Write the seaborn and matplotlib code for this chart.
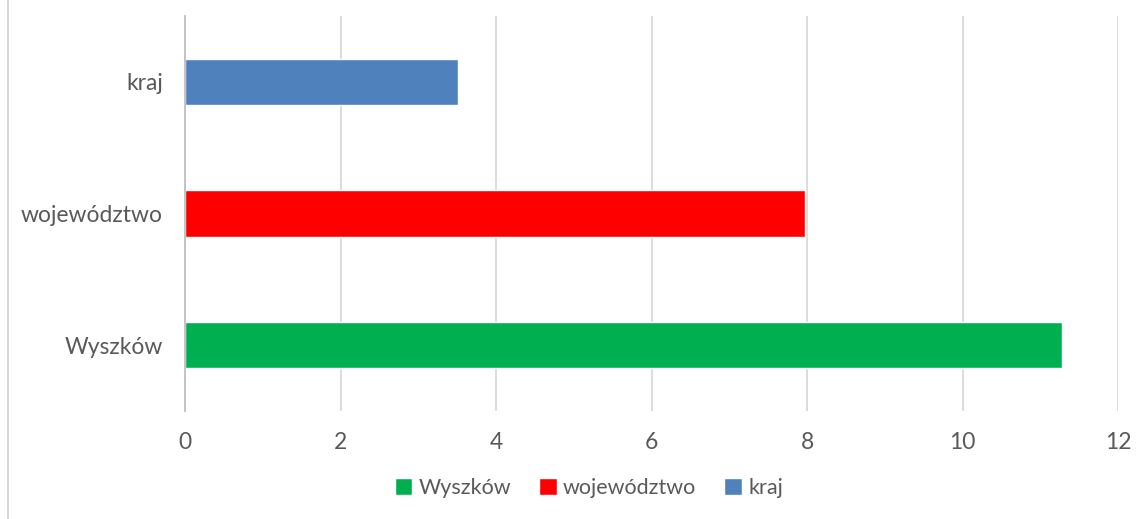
import pandas as pd
import matplotlib.pyplot as plt
import seaborn as sns
from matplotlib.patches import Patch

categories = ["kraj", "województwo", "Wyszków"]
values = [3.51, 7.97, 11.28]
colors = {"Wyszków": "#00B050", "województwo": "#FF0000", "kraj": "#4F81BD"}
legend_order = ["Wyszków", "województwo", "kraj"]
xticks = [0, 2, 4, 6, 8, 10, 12]

df = pd.DataFrame({"obszar": categories, "wartosc": values})

sns.set_theme(style="white")
plt.rcParams["font.family"] = ["Lato", "DejaVu Sans"]

fig = plt.figure(figsize=(11.47, 5.19), dpi=100)
ax = fig.add_axes([185 / 1147, 1 - 411 / 519, (1118 - 185) / 1147, (411 - 16) / 519])

sns.barplot(data=df, y="obszar", x="wartosc", hue="obszar", palette=colors,
            order=categories, width=0.35, dodge=False, legend=False, ax=ax, saturation=1)

ax.set_xlim(0, 12)
ax.set_ylim(2.5, -0.5)
ax.set_xticks(xticks)
ax.set_xticklabels([str(t) for t in xticks])
ax.set_xlabel("")
ax.set_ylabel("")
ax.grid(axis="x", color="#D9D9D9", linewidth=1.3)
ax.set_axisbelow(True)
for s in ["top", "right", "bottom"]:
    ax.spines[s].set_visible(False)
ax.spines["left"].set_color("#BFBFBF")
ax.spines["left"].set_linewidth(1.3)
ax.tick_params(axis="both", length=0, labelsize=16.5, labelcolor="#595959")
ax.tick_params(axis="y", pad=16)
ax.tick_params(axis="x", pad=15)

handles = [Patch(facecolor=colors[c], label=c) for c in legend_order]
fig.legend(handles=handles, loc="center", bbox_to_anchor=(589 / 1147, 1 - 488 / 519),
           ncol=3, frameon=False, fontsize=15.5, handlelength=0.8, handleheight=0.8,
           handletextpad=0.3, columnspacing=1.3, labelcolor="#595959")

fig.add_artist(plt.Line2D([8 / 1147, 8 / 1147], [0, 1], color="#D9D9D9", linewidth=1.5))

fig.savefig("out.png", dpi=100)
